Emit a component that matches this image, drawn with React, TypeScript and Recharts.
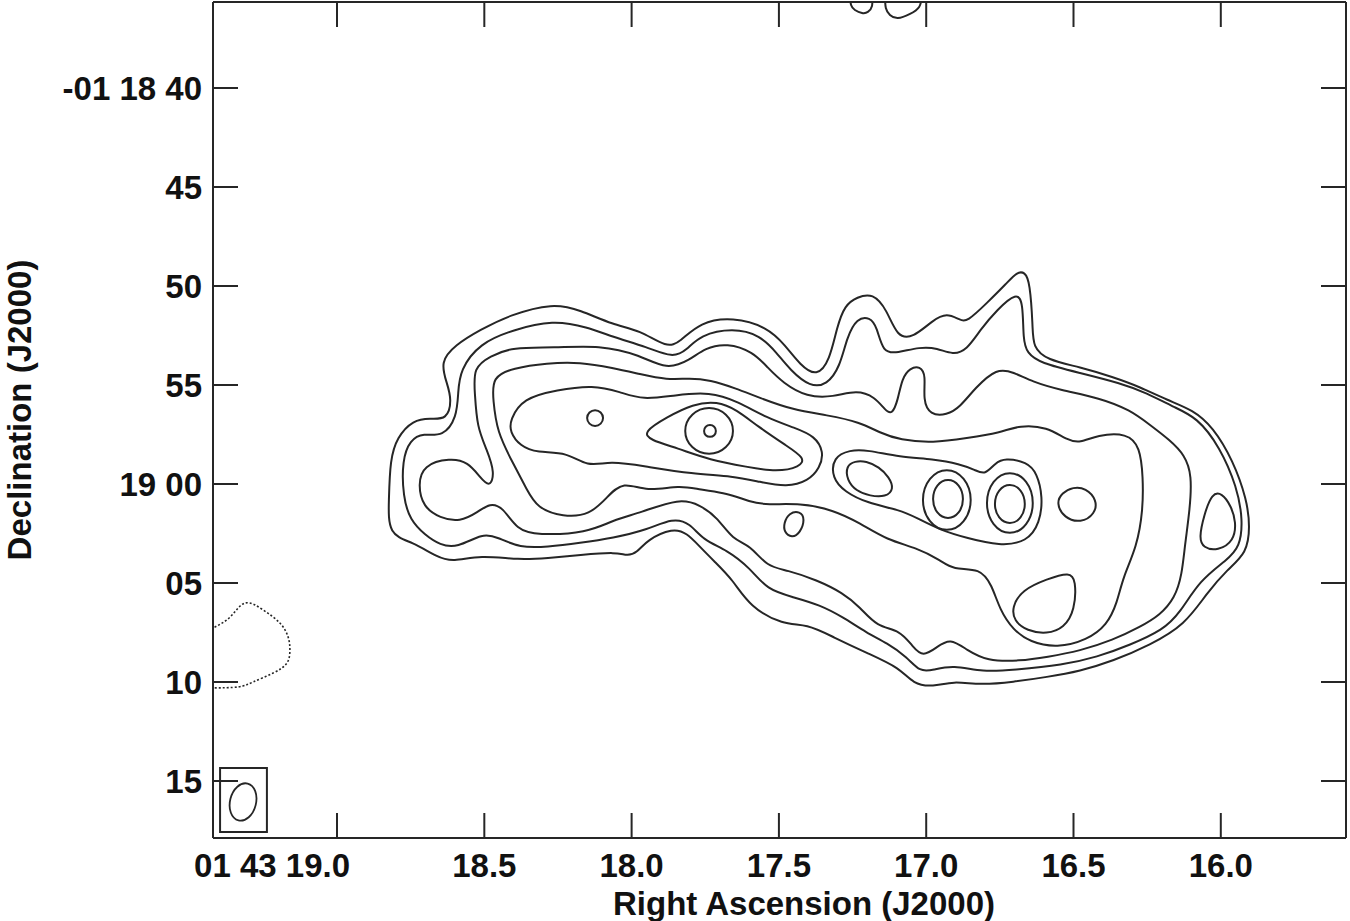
import React from "react";
import { LineChart, Line, XAxis, YAxis, ReferenceArea, ReferenceDot } from "recharts";

type P = [number, number]; // [RA seconds (01h43m..), Dec arcsec (-01 18 ..)]

const raTicks = [19.0, 18.5, 18.0, 17.5, 17.0, 16.5, 16.0];
const raLabels = ["01 43 19.0", "18.5", "18.0", "17.5", "17.0", "16.5", "16.0"];
const decTicks = [40, 45, 50, 55, 60, 65, 70, 75];
const decLabels = ["-01 18 40", "45", "50", "55", "19 00", "05", "10", "15"];

const raDomain: [number, number] = [15.575, 19.421];
const decDomain: [number, number] = [35.657, 77.879];

// outermost contour
const c1: P[] = [
  [18.827, 62.58], [18.824, 60.81], [18.82, 58.79], [18.796, 57.63], [18.742, 56.77], [18.684, 56.67],
  [18.627, 56.77], [18.61, 55.76], [18.627, 54.9], [18.65, 53.84], [18.599, 52.98], [18.515, 52.22],
  [18.413, 51.46], [18.267, 50.86], [18.175, 51.21], [18.063, 51.97], [17.972, 52.22], [17.88, 53.13],
  [17.836, 52.83], [17.768, 51.82], [17.656, 51.57], [17.54, 52.07], [17.479, 52.98], [17.428, 53.99],
  [17.371, 54.6], [17.327, 53.74], [17.303, 52.07], [17.276, 50.96], [17.235, 50.56], [17.181, 50.35],
  [17.133, 51.21], [17.099, 52.58], [17.045, 52.63], [16.977, 51.72], [16.93, 51.36], [16.885, 51.72],
  [16.862, 51.82], [16.794, 50.86], [16.726, 49.85], [16.692, 49.29], [16.665, 49.29], [16.648, 49.8],
  [16.638, 52.07], [16.638, 53.08], [16.59, 53.74], [16.478, 54.09], [16.366, 54.6], [16.274, 55.1],
  [16.183, 55.76], [16.094, 56.26], [16.027, 57.12], [15.959, 58.79], [15.911, 60.81], [15.901, 62.17],
  [15.911, 63.48], [15.979, 64.34], [16.047, 65.5], [16.122, 67.12], [16.24, 68.13], [16.366, 68.94],
  [16.478, 69.45], [16.59, 69.75], [16.705, 70.0], [16.817, 70.15], [16.909, 69.95], [16.977, 70.25],
  [17.045, 70.1], [17.089, 69.29], [17.201, 68.54], [17.316, 67.73], [17.405, 67.07], [17.486, 67.12],
  [17.598, 66.21], [17.656, 64.85], [17.717, 63.94], [17.768, 63.18], [17.812, 62.48], [17.86, 62.22],
  [17.948, 62.83], [17.982, 63.48], [18.016, 63.64], [18.05, 63.43], [18.175, 63.59], [18.287, 63.74],
  [18.379, 63.84], [18.515, 63.59], [18.606, 63.94], [18.661, 63.69], [18.742, 62.93],
];

const c2: P[] = [
  [18.583, 54.24], [18.589, 55.4], [18.593, 56.62], [18.64, 57.63], [18.708, 57.42], [18.752, 57.78],
  [18.779, 58.79], [18.776, 60.66], [18.752, 61.82], [18.701, 62.58], [18.65, 63.08], [18.593, 63.23],
  [18.504, 62.48], [18.457, 62.68], [18.379, 63.23], [18.287, 63.18], [18.175, 62.98], [18.063, 62.73],
  [17.948, 62.32], [17.86, 61.72], [17.802, 61.97], [17.758, 62.83], [17.676, 63.33], [17.598, 64.24],
  [17.54, 65.35], [17.452, 65.71], [17.361, 66.11], [17.283, 66.72], [17.201, 67.53], [17.133, 68.03],
  [17.065, 68.74], [17.021, 69.5], [16.977, 69.39], [16.909, 69.14], [16.807, 69.5], [16.705, 69.39],
  [16.536, 69.14], [16.42, 68.74], [16.308, 68.13], [16.196, 67.37], [16.139, 66.52], [16.071, 64.85],
  [15.979, 63.84], [15.935, 63.18], [15.925, 61.82], [15.945, 60.15], [16.003, 58.13], [16.081, 56.62],
  [16.162, 56.11], [16.251, 55.4], [16.342, 54.9], [16.478, 54.39], [16.614, 53.89], [16.658, 53.38],
  [16.671, 52.73], [16.671, 50.86], [16.692, 50.3], [16.76, 51.21], [16.817, 52.22], [16.862, 53.23],
  [16.909, 53.48], [16.963, 53.13], [17.021, 53.08], [17.099, 53.38], [17.147, 53.38], [17.167, 52.07],
  [17.191, 51.57], [17.235, 51.62], [17.269, 52.58], [17.293, 54.09], [17.337, 55.0], [17.394, 55.1],
  [17.462, 54.24], [17.507, 53.38], [17.564, 52.48], [17.656, 52.12], [17.768, 52.48], [17.812, 53.23],
  [17.86, 53.64], [17.948, 53.08], [18.063, 52.58], [18.151, 52.07], [18.267, 51.72], [18.403, 52.22],
  [18.515, 52.88],
];

const c3: P[] = [
  [18.538, 54.14], [18.481, 53.54], [18.403, 53.08], [18.267, 53.13], [18.107, 52.98], [17.972, 53.48],
  [17.88, 54.24], [17.802, 53.74], [17.751, 53.13], [17.676, 52.88], [17.588, 53.33], [17.54, 54.09],
  [17.486, 54.9], [17.405, 55.61], [17.316, 55.61], [17.235, 55.25], [17.174, 55.61], [17.14, 56.26],
  [17.116, 56.52], [17.096, 55.76], [17.082, 54.65], [17.055, 54.14], [17.021, 54.04], [17.001, 54.5],
  [17.011, 55.76], [16.987, 56.52], [16.93, 56.52], [16.885, 56.11], [16.834, 55.15], [16.76, 54.14],
  [16.705, 54.34], [16.638, 54.85], [16.546, 55.25], [16.41, 55.66], [16.308, 56.26], [16.24, 57.02],
  [16.173, 57.78], [16.122, 58.54], [16.098, 59.55], [16.105, 61.31], [16.122, 63.08], [16.132, 64.6],
  [16.156, 65.76], [16.206, 66.62], [16.274, 67.22], [16.366, 67.88], [16.478, 68.43], [16.59, 68.74],
  [16.682, 68.94], [16.794, 68.94], [16.862, 68.38], [16.919, 67.78], [16.963, 68.23], [17.011, 68.74],
  [17.045, 68.23], [17.089, 67.37], [17.167, 67.22], [17.225, 66.21], [17.283, 65.5], [17.371, 64.85],
  [17.473, 64.34], [17.54, 64.19], [17.598, 63.08], [17.656, 62.83], [17.71, 61.67], [17.768, 61.06],
  [17.836, 60.71], [17.972, 61.46], [18.063, 61.82], [18.151, 62.48], [18.321, 62.58], [18.389, 62.32],
  [18.437, 61.16], [18.481, 60.96], [18.521, 61.41], [18.583, 61.92], [18.65, 61.72], [18.708, 61.16],
  [18.725, 60.05], [18.708, 59.04], [18.616, 58.69], [18.555, 58.89], [18.515, 59.65], [18.481, 60.2],
  [18.464, 59.44], [18.491, 58.28], [18.525, 57.12], [18.532, 55.4],
];

const c4: P[] = [
  [18.474, 54.6], [18.403, 54.14], [18.287, 53.89], [18.175, 53.84], [18.063, 54.14], [17.972, 54.45],
  [17.88, 54.75], [17.802, 54.65], [17.734, 54.75], [17.649, 55.15], [17.564, 55.66], [17.452, 56.26],
  [17.337, 56.52], [17.225, 56.87], [17.157, 57.42], [17.089, 57.78], [16.977, 57.93], [16.862, 57.68],
  [16.75, 57.42], [16.682, 57.02], [16.59, 57.12], [16.522, 57.78], [16.478, 57.93], [16.42, 57.53],
  [16.318, 57.42], [16.274, 58.13], [16.264, 59.65], [16.264, 61.31], [16.285, 63.18], [16.332, 64.7],
  [16.352, 66.01], [16.386, 67.12], [16.454, 67.88], [16.556, 68.28], [16.648, 67.98], [16.705, 67.37],
  [16.75, 66.36], [16.777, 65.1], [16.817, 64.24], [16.909, 64.34], [16.953, 63.84], [17.031, 63.23],
  [17.133, 62.83], [17.225, 61.97], [17.316, 61.31], [17.428, 60.96], [17.54, 61.06], [17.598, 60.91],
  [17.676, 60.45], [17.768, 60.3], [17.836, 60.05], [17.948, 60.4], [18.029, 59.85], [18.083, 60.66],
  [18.141, 61.57], [18.233, 61.67], [18.321, 61.21], [18.355, 60.3], [18.403, 58.94], [18.457, 57.37],
  [18.47, 55.76],
];

const c5: P[] = [
  [18.413, 56.77], [18.369, 55.66], [18.253, 55.25], [18.131, 55.0], [18.039, 55.35], [17.961, 55.76],
  [17.853, 55.51], [17.734, 55.35], [17.642, 55.81], [17.54, 56.67], [17.445, 57.17], [17.378, 57.58],
  [17.347, 58.38], [17.361, 59.19], [17.401, 59.85], [17.473, 60.15], [17.564, 59.9], [17.656, 59.6],
  [17.792, 59.5], [17.961, 59.09], [18.073, 58.84], [18.151, 59.14], [18.219, 58.38], [18.321, 58.43],
  [18.379, 58.08], [18.413, 57.37],
];

const eye: P[] = [
  [17.961, 57.37], [17.88, 56.62], [17.792, 55.96], [17.71, 55.81], [17.642, 56.26], [17.574, 57.07],
  [17.473, 58.08], [17.411, 58.69], [17.428, 59.14], [17.507, 59.39], [17.608, 59.14], [17.734, 58.79],
  [17.846, 58.18], [17.938, 57.78],
];

const ring177: P[] = [
  [17.647, 57.32], [17.674, 58.22], [17.737, 58.6], [17.8, 58.22], [17.827, 57.32], [17.8, 56.42],
  [17.737, 56.04], [17.674, 56.42],
];

const peak177: P[] = [
  [17.712, 57.32], [17.718, 57.56], [17.734, 57.65], [17.75, 57.56], [17.756, 57.32], [17.75, 57.08],
  [17.734, 56.99], [17.718, 57.08],
];

const knot181: P[] = [
  [18.094, 56.67], [18.103, 56.98], [18.124, 57.11], [18.145, 56.98], [18.154, 56.67], [18.145, 56.36],
  [18.124, 56.23], [18.103, 56.36],
];

const oval172: P[] = [
  [17.272, 59.09], [17.242, 58.84], [17.204, 58.84], [17.16, 59.14], [17.126, 59.65], [17.109, 60.25],
  [17.137, 60.66], [17.191, 60.61], [17.238, 60.35], [17.269, 59.8],
];

const bridge: P[] = [
  [17.316, 58.64], [17.259, 58.28], [17.201, 58.28], [17.089, 58.64], [16.977, 58.74], [16.885, 58.99],
  [16.834, 59.29], [16.8, 59.55], [16.766, 58.94], [16.733, 58.69], [16.658, 58.89], [16.624, 59.44],
  [16.604, 60.66], [16.614, 61.97], [16.658, 62.93], [16.75, 63.13], [16.862, 62.73], [16.953, 62.32],
  [17.031, 61.72], [17.089, 61.31], [17.201, 60.96], [17.276, 60.4], [17.32, 59.7],
];

const ring169a: P[] = [
  [16.84, 60.81], [16.867, 61.99], [16.93, 62.48], [16.993, 61.99], [17.02, 60.81], [16.993, 59.63],
  [16.93, 59.14], [16.867, 59.63],
];
const ring169b: P[] = [
  [16.87, 60.76], [16.886, 61.51], [16.926, 61.82], [16.966, 61.51], [16.982, 60.76], [16.966, 60.01],
  [16.926, 59.7], [16.886, 60.01],
];
const ring167a: P[] = [
  [16.63, 60.96], [16.655, 62.14], [16.716, 62.63], [16.777, 62.14], [16.802, 60.96], [16.777, 59.78],
  [16.716, 59.29], [16.655, 59.78],
];
const ring167b: P[] = [
  [16.66, 61.01], [16.676, 61.76], [16.716, 62.07], [16.756, 61.76], [16.772, 61.01], [16.756, 60.26],
  [16.716, 59.95], [16.676, 60.26],
];

const blob165: P[] = [
  [16.559, 60.96], [16.539, 60.45], [16.502, 60.15], [16.458, 60.2], [16.42, 60.81], [16.427, 61.52],
  [16.475, 61.97], [16.532, 61.72],
];
const blob174: P[] = [
  [17.483, 61.97], [17.466, 61.46], [17.428, 61.36], [17.411, 61.77], [17.428, 62.48], [17.456, 62.73],
  [17.483, 62.43],
];
const tri160: P[] = [
  [16.074, 62.73], [16.057, 61.57], [16.03, 60.45], [15.996, 60.45], [15.965, 61.11], [15.948, 61.92],
  [15.955, 62.88], [16.01, 63.38], [16.06, 63.23],
];
const drop165: P[] = [
  [16.709, 66.21], [16.675, 65.35], [16.59, 64.8], [16.512, 64.44], [16.492, 64.85], [16.495, 66.36],
  [16.532, 67.27], [16.59, 67.58], [16.658, 67.42], [16.702, 66.92],
];

// pieces cut by the top edge
const edgeA: P[] = [
  [17.259, 35.35], [17.255, 35.81], [17.242, 36.06], [17.218, 36.21], [17.198, 36.16], [17.184, 35.86],
  [17.184, 35.35],
];
const edgeB: P[] = [
  [17.14, 35.35], [17.137, 35.96], [17.123, 36.31], [17.096, 36.47], [17.055, 36.26], [17.024, 35.91],
  [17.014, 35.35],
];

// negative contour (dotted) at the left edge
const negative: P[] = [
  [19.428, 67.32], [19.363, 66.72], [19.312, 66.01], [19.251, 66.36], [19.194, 67.02], [19.166, 67.73],
  [19.16, 68.38], [19.17, 69.04], [19.217, 69.55], [19.285, 70.0], [19.336, 70.25], [19.428, 70.3],
];

const beamBox = { ra1: 19.397, ra2: 19.238, dec1: 74.34, dec2: 77.58 };
const beam = { ra: 19.319, dec: 76.06 };

const closedContours = [
  c1, c2, c3, c4, c5, eye, ring177, peak177, knot181, oval172, bridge,
  ring169a, ring169b, ring167a, ring167b, blob165, blob174, tri160, drop165,
];
const openContours = [edgeA, edgeB];

const pts = (a: P[]) => a.map(([ra, dec]) => ({ ra, dec }));

const FONT = '"Liberation Sans", Arial, Helvetica, sans-serif';
const INK = "#262626";
const TICK = 25;

function findIdx(list: number[], v: number) {
  return list.findIndex((t) => Math.abs(t - v) < 1e-6);
}

function BottomTick(props: any) {
  const { x, y, payload } = props;
  const i = findIdx(raTicks, payload.value);
  const first = i === 0;
  return (
    <g>
      <line x1={x} x2={x} y1={y} y2={y - TICK} stroke={INK} strokeWidth={2} />
      <text x={first ? x + 13 : x} y={y + 39} textAnchor={first ? "end" : "middle"}
        fontFamily={FONT} fontWeight="bold" fontSize={33} fill="#111">{raLabels[i]}</text>
    </g>
  );
}

function TopTick(props: any) {
  const { x, y } = props;
  return <line x1={x} x2={x} y1={y} y2={y + TICK} stroke={INK} strokeWidth={2} />;
}

function LeftTick(props: any) {
  const { x, y, payload } = props;
  const i = findIdx(decTicks, payload.value);
  return (
    <g>
      <line x1={x} x2={x + TICK} y1={y} y2={y} stroke={INK} strokeWidth={2} />
      <text x={x - 11} y={y + 12} textAnchor="end" fontFamily={FONT} fontWeight="bold"
        fontSize={33} fill="#111">{decLabels[i]}</text>
    </g>
  );
}

function RightTick(props: any) {
  const { x, y } = props;
  return <line x1={x} x2={x - TICK} y1={y} y2={y} stroke={INK} strokeWidth={2} />;
}

const axisLine = { stroke: INK, strokeWidth: 2 };

export default function App() {
  return (
    <div style={{ position: "absolute", left: 0, top: 0, width: 1350, height: 921, background: "#fff" }}>
      <LineChart width={1350} height={921} margin={{ top: 1, right: 3, bottom: 43, left: 63 }}>
        <XAxis xAxisId="b" type="number" dataKey="ra" domain={raDomain} reversed allowDataOverflow
          ticks={raTicks} interval={0} tickSize={0} tickMargin={0} tickLine={false} axisLine={axisLine}
          height={40} tick={(p: any) => <BottomTick {...p} />}
          label={{
            content: () => (
              <text x={804} y={915} textAnchor="middle" fontFamily={FONT} fontWeight="bold"
                fontSize={33} fill="#111">Right Ascension (J2000)</text>
            ),
          }} />
        <XAxis xAxisId="t" orientation="top" type="number" dataKey="ra" domain={raDomain} reversed
          allowDataOverflow ticks={raTicks} interval={0} tickSize={0} tickMargin={0} tickLine={false}
          axisLine={axisLine} height={1} tick={(p: any) => <TopTick {...p} />} />
        <YAxis yAxisId="l" type="number" dataKey="dec" domain={decDomain} reversed allowDataOverflow
          ticks={decTicks} interval={0} tickSize={0} tickMargin={0} tickLine={false} axisLine={axisLine}
          width={150} tick={(p: any) => <LeftTick {...p} />}
          label={{
            content: () => (
              <text transform="translate(31,410) rotate(-90)" textAnchor="middle" fontFamily={FONT}
                fontWeight="bold" fontSize={33} fill="#111">Declination (J2000)</text>
            ),
          }} />
        <YAxis yAxisId="r" orientation="right" type="number" dataKey="dec" domain={decDomain} reversed
          allowDataOverflow ticks={decTicks} interval={0} tickSize={0} tickMargin={0} tickLine={false}
          axisLine={axisLine} width={1} tick={(p: any) => <RightTick {...p} />} />

        {closedContours.map((c, i) => (
          <Line key={"c" + i} xAxisId="b" yAxisId="l" data={pts(c)} dataKey="dec" type="basisClosed"
            stroke={INK} strokeWidth={2} dot={false} activeDot={false} isAnimationActive={false} />
        ))}
        {openContours.map((c, i) => (
          <Line key={"o" + i} xAxisId="b" yAxisId="l" data={pts(c)} dataKey="dec" type="natural"
            stroke={INK} strokeWidth={2} dot={false} activeDot={false} isAnimationActive={false} />
        ))}
        <Line xAxisId="b" yAxisId="l" data={pts(negative)} dataKey="dec" type="natural" stroke={INK}
          strokeWidth={1.6} strokeDasharray="2 2" dot={false} activeDot={false} isAnimationActive={false} />

        <ReferenceArea xAxisId="b" yAxisId="l" x1={beamBox.ra1} x2={beamBox.ra2} y1={beamBox.dec1}
          y2={beamBox.dec2} fill="none" fillOpacity={0} stroke={INK} strokeWidth={2} />
        <ReferenceDot xAxisId="b" yAxisId="l" x={beam.ra} y={beam.dec} r={1}
          shape={(p: any) => (
            <ellipse cx={p.cx} cy={p.cy} rx={13} ry={19} transform={`rotate(14 ${p.cx} ${p.cy})`}
              fill="none" stroke={INK} strokeWidth={1.8} />
          )} />
      </LineChart>
    </div>
  );
}
